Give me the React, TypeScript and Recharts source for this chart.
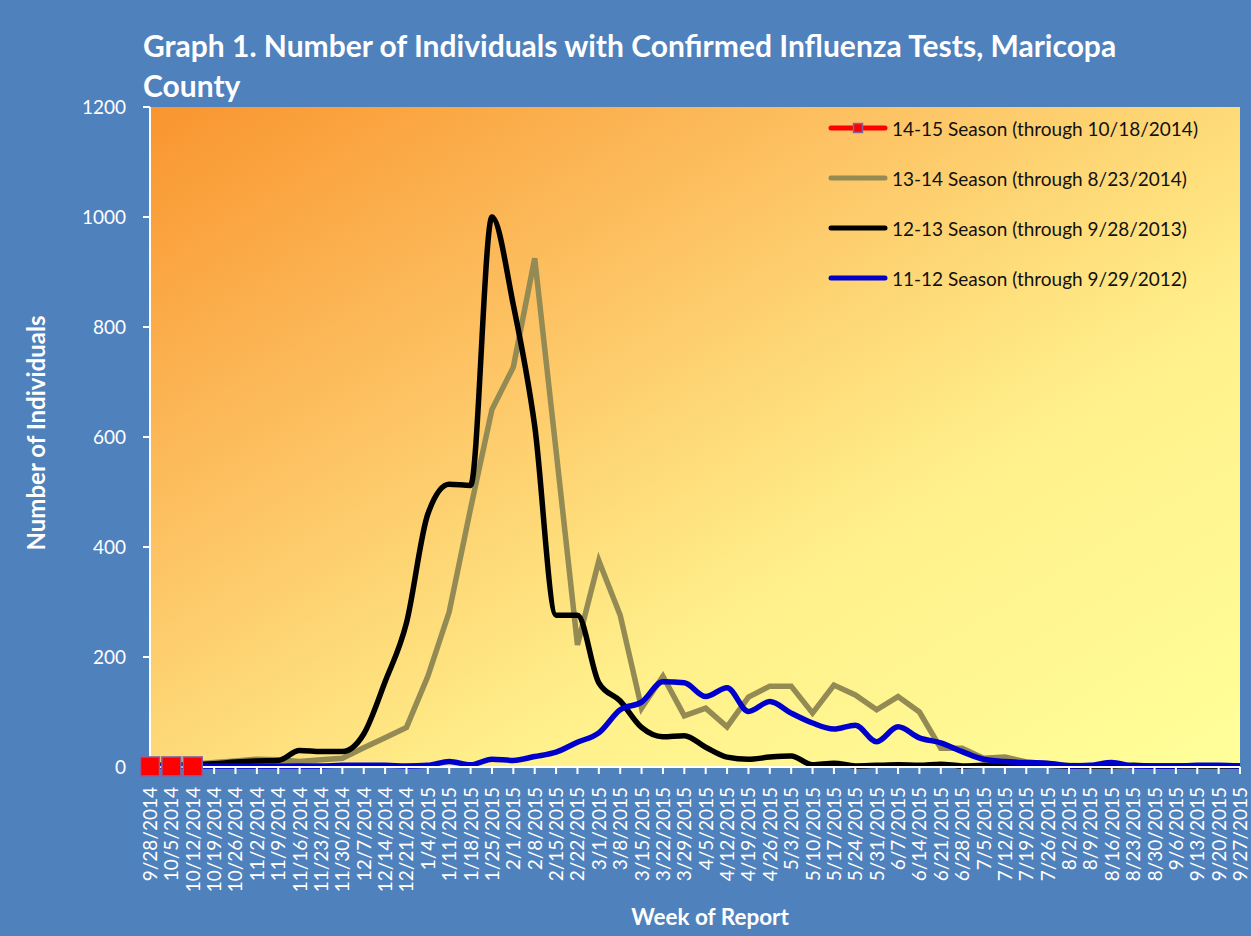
import React from "react";
import { LineChart, Line, XAxis, YAxis, CartesianGrid, Legend } from "recharts";

const BG = "#4F81BD";
const RED = "#FF0000";
const OLIVE = "#948A54";
const BLACK = "#000000";
const BLUE = "#0000CC";

const WEEKS = [
  "9/28/2014", "10/5/2014", "10/12/2014", "10/19/2014", "10/26/2014", "11/2/2014",
  "11/9/2014", "11/16/2014", "11/23/2014", "11/30/2014", "12/7/2014", "12/14/2014",
  "12/21/2014", "1/4/2015", "1/11/2015", "1/18/2015", "1/25/2015", "2/1/2015",
  "2/8/2015", "2/15/2015", "2/22/2015", "3/1/2015", "3/8/2015", "3/15/2015",
  "3/22/2015", "3/29/2015", "4/5/2015", "4/12/2015", "4/19/2015", "4/26/2015",
  "5/3/2015", "5/10/2015", "5/17/2015", "5/24/2015", "5/31/2015", "6/7/2015",
  "6/14/2015", "6/21/2015", "6/28/2015", "7/5/2015", "7/12/2015", "7/19/2015",
  "7/26/2015", "8/2/2015", "8/9/2015", "8/16/2015", "8/23/2015", "8/30/2015",
  "9/6/2015", "9/13/2015", "9/20/2015", "9/27/2015",
];

// 14-15 season, through 10/18/2014
const SEASON_1415 = [1, 1, 1];

// 13-14 season, through 8/23/2014
const SEASON_1314 = [
  2, 3, 5, 8, 11, 14, 13, 10, 13, 16, 35, 53, 72,
  165, 282, 470, 650, 727, 925, 575, 222,
  375, 276, 107, 165, 93, 107, 73, 127, 147, 147, 98, 149, 131, 104, 128, 100,
  34, 34, 16, 18, 9, 6, 3, 2, 2, 2,
];

// 12-13 season, through 9/28/2013
const SEASON_1213 = [
  3, 3, 4, 6, 9, 11, 12, 30, 28, 28,
  60, 155, 262, 460, 514, 512, 1000, 840, 620, 276,
  276, 153, 120, 72, 55, 57, 36, 18, 14, 18,
  20, 4, 7, 2, 3, 4, 3, 5, 2, 3,
  3, 4, 3, 2, 2, 2, 3, 2, 2, 2,
  2, 2,
];

// 11-12 season, through 9/29/2012
const SEASON_1112 = [
  2, 2, 2, 2, 2, 2, 2, 2, 2, 3, 3, 3, 2,
  3, 10, 4, 14, 12, 19, 27, 45, 62, 104,
  118, 155, 153, 128, 144, 101, 119, 98, 80, 69,
  76, 46, 73, 53, 44, 28, 14, 10, 8, 7,
  2, 3, 8, 2, 2, 2, 3, 3, 2,
];

const Y_TICKS = [0, 200, 400, 600, 800, 1000, 1200];

const SERIES = [
  { key: "s1415", name: "14-15 Season (through 10/18/2014)", color: RED, marker: true },
  { key: "s1314", name: "13-14 Season (through 8/23/2014)", color: OLIVE, marker: false },
  { key: "s1213", name: "12-13 Season (through 9/28/2013)", color: BLACK, marker: false },
  { key: "s1112", name: "11-12 Season (through 9/29/2012)", color: BLUE, marker: false },
];

const data = WEEKS.map((date, i) => ({
  date,
  s1415: SEASON_1415[i] ?? null,
  s1314: SEASON_1314[i] ?? null,
  s1213: SEASON_1213[i] ?? null,
  s1112: SEASON_1112[i] ?? null,
}));

function WeekTick(props: any) {
  const { x, y, payload } = props;
  return (
    <text
      x={x}
      y={y}
      dx={-11}
      dy={7}
      transform={`rotate(-90 ${x} ${y})`}
      textAnchor="end"
      fill="#fff"
      fontSize={19}
    >
      {payload.value}
    </text>
  );
}

function RedSquare(props: any) {
  const { cx, cy, index } = props;
  if (cx == null || cy == null) return <g key={index} />;
  return (
    <rect
      key={index}
      x={cx - 9.5}
      y={cy - 9.5}
      width={19}
      height={19}
      fill={RED}
      stroke="#8064A2"
      strokeWidth={1.5}
    />
  );
}

function LegendBox() {
  return (
    <div style={{ display: "flex", flexDirection: "column" }}>
      {SERIES.map((s) => (
        <div key={s.key} style={{ height: 50, display: "flex", alignItems: "center" }}>
          <svg width={60} height={12}>
            <line x1={3} y1={6} x2={57} y2={6} stroke={s.color} strokeWidth={5} strokeLinecap="round" />
            {s.marker && (
              <rect x={25.5} y={1.5} width={9} height={9} fill={RED} stroke="#8064A2" strokeWidth={1.5} />
            )}
          </svg>
          <span style={{ marginLeft: 4, fontSize: 19, color: "#111", whiteSpace: "nowrap" }}>{s.name}</span>
        </div>
      ))}
    </div>
  );
}

export default function App() {
  return (
    <div
      style={{
        position: "absolute",
        left: 0,
        top: 0,
        width: 1251,
        height: 936,
        background: BG,
        fontFamily: "Lato, 'Open Sans', sans-serif",
        overflow: "hidden",
      }}
    >
      <div
        style={{
          position: "absolute",
          left: 143,
          top: 25,
          width: 1080,
          color: "#fff",
          fontWeight: 700,
          fontSize: 30,
          lineHeight: "40px",
          whiteSpace: "nowrap",
        }}
      >
        Graph 1. Number of Individuals with Confirmed Influenza Tests, Maricopa
        <br />
        County
      </div>

      <LineChart
        width={1251}
        height={936}
        data={data}
        margin={{ top: 107, right: 11, left: 0, bottom: 0 }}
      >
        <defs>
          <linearGradient id="plotFill" x1="0" y1="0" x2="1" y2="1">
            <stop offset="0%" stopColor="#F9952F" />
            <stop offset="35%" stopColor="#FDC465" />
            <stop offset="65%" stopColor="#FFF08B" />
            <stop offset="100%" stopColor="#FFFF99" />
          </linearGradient>
        </defs>
        <CartesianGrid horizontal={false} vertical={false} fill="url(#plotFill)" fillOpacity={1} />
        <XAxis
          dataKey="date"
          interval={0}
          height={169}
          tick={<WeekTick />}
          tickSize={7}
          tickMargin={2}
          tickLine={{ stroke: "#fff", strokeWidth: 2 }}
          axisLine={{ stroke: "#fff", strokeWidth: 2 }}
        />
        <XAxis
          xAxisId="top"
          dataKey="date"
          orientation="top"
          height={0}
          tick={false}
          tickLine={false}
          axisLine={{ stroke: "#fff", strokeWidth: 2 }}
        />
        <YAxis
          domain={[0, 1200]}
          ticks={Y_TICKS}
          width={150}
          tick={{ fill: "#fff", fontSize: 19 }}
          tickSize={7}
          tickMargin={17}
          tickLine={{ stroke: "#fff", strokeWidth: 2 }}
          axisLine={{ stroke: "#fff", strokeWidth: 2 }}
        />
        <YAxis
          yAxisId="right"
          orientation="right"
          domain={[0, 1200]}
          width={0}
          tick={false}
          tickLine={false}
          axisLine={{ stroke: "#fff", strokeWidth: 2 }}
        />
        <Legend
          layout="horizontal"
          verticalAlign="middle"
          align="center"
          wrapperStyle={{ top: 103, left: 828, width: 420 }}
          content={<LegendBox />}
        />
        <Line
          dataKey="s1415"
          name={SERIES[0].name}
          type="linear"
          stroke={RED}
          strokeWidth={5}
          dot={<RedSquare />}
          activeDot={false}
          isAnimationActive={false}
        />
        <Line
          dataKey="s1314"
          name={SERIES[1].name}
          type="linear"
          stroke={OLIVE}
          strokeWidth={5.5}
          dot={false}
          activeDot={false}
          isAnimationActive={false}
        />
        <Line
          dataKey="s1213"
          name={SERIES[2].name}
          type="monotone"
          stroke={BLACK}
          strokeWidth={5.5}
          dot={false}
          activeDot={false}
          isAnimationActive={false}
        />
        <Line
          dataKey="s1112"
          name={SERIES[3].name}
          type="monotone"
          stroke={BLUE}
          strokeWidth={5.5}
          dot={false}
          activeDot={false}
          isAnimationActive={false}
        />
      </LineChart>

      <div
        style={{
          position: "absolute",
          left: 35,
          top: 433,
          transform: "translate(-50%, -50%) rotate(-90deg)",
          color: "#fff",
          fontWeight: 700,
          fontSize: 24,
          whiteSpace: "nowrap",
        }}
      >
        Number of Individuals
      </div>
      <div
        style={{
          position: "absolute",
          left: 710,
          top: 916,
          transform: "translate(-50%, -50%)",
          color: "#fff",
          fontWeight: 700,
          fontSize: 22.5,
          whiteSpace: "nowrap",
        }}
      >
        Week of Report
      </div>
    </div>
  );
}
